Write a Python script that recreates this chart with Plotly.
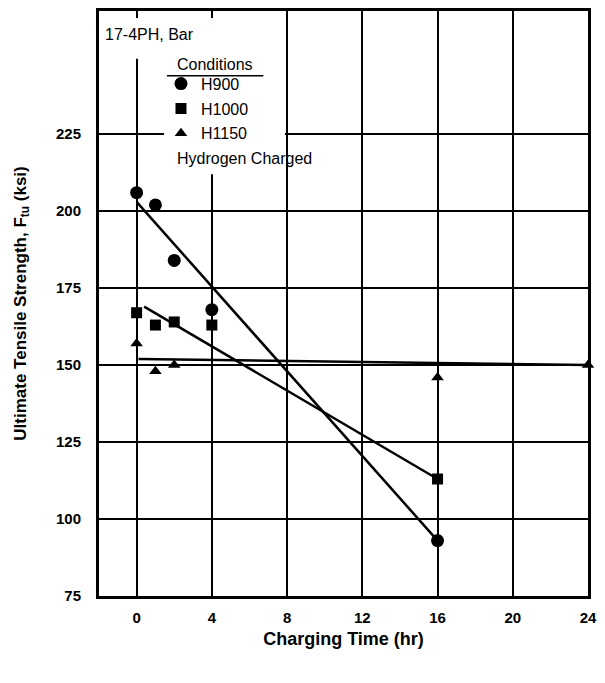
import plotly.graph_objects as go

# Ultimate tensile strength of hydrogen-charged 17-4PH bar vs charging time
FONT = "Liberation Sans, Arial, sans-serif"

# Measured points (charging time in hr, Ftu in ksi)
h900_time = [0, 1, 2, 4, 16]
h900_ftu = [206, 202, 184, 168, 93]

h1000_time = [0, 1, 2, 4, 16]
h1000_ftu = [167, 163, 164, 163, 113]

h1150_time = [0, 1, 2, 16, 24]
h1150_ftu = [157, 148, 150, 146, 150]

# Trend lines drawn through each condition
h900_fit_time = [0, 16]
h900_fit_ftu = [203, 93]
h1000_fit_time = [0.4, 16]
h1000_fit_ftu = [169, 113]
h1150_fit_time = [0.1, 24]
h1150_fit_ftu = [152, 150]

x_ticks = [0, 4, 8, 12, 16, 20, 24]
y_ticks = [75, 100, 125, 150, 175, 200, 225]

fig = go.Figure()

line_style = dict(color="black", width=2.5)
for tx, ty in [(h900_fit_time, h900_fit_ftu),
               (h1000_fit_time, h1000_fit_ftu),
               (h1150_fit_time, h1150_fit_ftu)]:
    fig.add_trace(go.Scatter(x=tx, y=ty, mode="lines", line=line_style,
                             showlegend=False, hoverinfo="skip"))

series = [
    ("H900", h900_time, h900_ftu, "circle", 13),
    ("H1000", h1000_time, h1000_ftu, "square", 11),
    ("H1150", h1150_time, h1150_ftu, "triangle-up", 11),
]
for name, xs, ys, sym, size in series:
    fig.add_trace(go.Scatter(
        x=xs, y=ys, mode="markers", name=name, legendgroup=name,
        marker=dict(symbol=sym, size=size, color="black",
                    line=dict(width=0)),
        cliponaxis=False,
    ))

# plot-area helpers in paper units
def px_x(p):
    return (p - 99) / 497

def px_y(p):
    return (596 - p) / 588

# white panel behind the key and label, hiding the grid there
# (no data falls inside it, so it can sit above the plot layer)
for x0, x1, y0, y1 in [(101, 288, 15, 56), (165, 288, 15, 172)]:
    fig.add_shape(type="rect", xref="paper", yref="paper",
                  x0=px_x(x0), x1=px_x(x1), y0=px_y(y1), y1=px_y(y0),
                  fillcolor="white", line=dict(width=0), layer="above")

# underline beneath "Conditions"
fig.add_shape(type="line", xref="paper", yref="paper",
              x0=px_x(168), x1=px_x(266), y0=px_y(73), y1=px_y(73),
              line=dict(color="black", width=1.5), layer="above")

text_font = dict(family=FONT, size=16, color="black")
for txt, x, y in [("17-4PH, Bar", 103, 32),
                  ("Conditions", 176, 62),
                  ("Hydrogen Charged", 176, 156)]:
    fig.add_annotation(text=txt, xref="paper", yref="paper",
                       x=px_x(x), y=px_y(y), xanchor="left", yanchor="middle",
                       showarrow=False, font=text_font)

axis_common = dict(
    showline=True, linewidth=3, linecolor="black", mirror=True,
    showgrid=True, gridcolor="black", gridwidth=1.5,
    zeroline=False, ticks="inside", ticklen=6, tickwidth=1.5,
    tickcolor="black",
    tickfont=dict(family=FONT, size=15, color="black", weight="bold"),
)

fig.update_xaxes(
    range=[-2, 24], tickvals=x_ticks, ticklabelstandoff=6,
    title=dict(text="<b>Charging Time (hr)</b>",
               font=dict(family=FONT, size=18, color="black"), standoff=8),
    **axis_common,
)
fig.update_yaxes(
    range=[75, 265], tickvals=y_ticks, ticklabelstandoff=12,
    title=dict(text="<b>Ultimate Tensile Strength, F<sub>tu</sub> (ksi)</b>",
               font=dict(family=FONT, size=17, color="black"), standoff=26),
    **axis_common,
)

fig.update_layout(
    width=605, height=683,
    margin=dict(l=99, r=8, t=8, b=87),
    paper_bgcolor="white", plot_bgcolor="white",
    showlegend=True,
    legend=dict(x=px_x(162), y=px_y(64), xanchor="left", yanchor="top",
                bgcolor="rgba(0,0,0,0)", font=text_font, maxheight=1,
                tracegroupgap=1, traceorder="grouped",
                itemsizing="trace"),
)

fig.write_html("out.html")
